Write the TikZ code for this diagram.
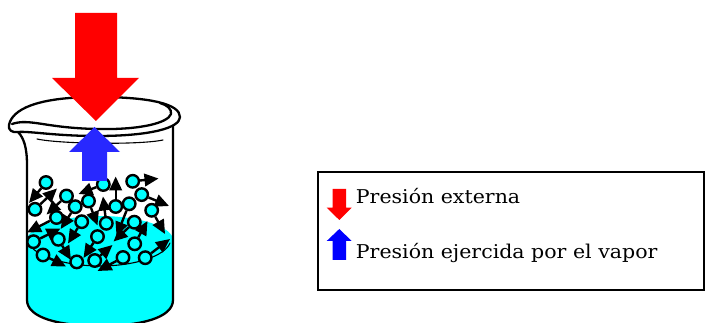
\documentclass[tikz,border=0pt]{standalone}
\usepackage{fontspec}
\setmainfont{DejaVu Serif}[FakeStretch=1.08]
\usetikzlibrary{arrows.meta}
\definecolor{pushred}{RGB}{255,0,0}
\definecolor{pushblue}{RGB}{40,40,255}
\definecolor{keyblue}{RGB}{0,0,255}
\definecolor{water}{RGB}{0,255,255}
\begin{document}
\begin{tikzpicture}[x=1pt,y=-1pt,
  glass/.style={line width=2.3pt, line cap=round, line join=round},
  thinglass/.style={line width=1.1pt, line cap=round},
  molecule/.style={circle, draw=black, fill=water, line width=2.4pt,
                   minimum size=12.5pt, inner sep=0pt},
  motion/.style={line width=2.4pt, -{Triangle[length=14pt,width=12.5pt]}},
  keytext/.style={anchor=base west, inner sep=0pt,
                  font=\fontsize{19}{22}\selectfont}]

\useasboundingbox (0,0) rectangle (705,323);

% liquid
\fill[water] (27,240) .. controls (27,227) and (60,216) .. (100,216)
  .. controls (140,216) and (173,227) .. (173,240) -- (173,300)
  .. controls (173,318) and (140,326) .. (100,326)
  .. controls (60,326) and (27,318) .. (27,300) -- cycle;
\draw[thinglass] (28,242) .. controls (35,258) and (70,266) .. (100,266)
  .. controls (135,266) and (165,256) .. (170,243);

% beaker rim with spout
\draw[glass] (9,125) .. controls (12,110) and (35,97) .. (97,97)
  .. controls (150,97) and (180,104) .. (180,117)
  .. controls (180,128) and (150,136) .. (97,136)
  .. controls (55,136) and (30,131) .. (18,132)
  .. controls (12,133) and (8,130) .. (9,125);
\draw[glass] (12,124) .. controls (30,118) and (45,128) .. (97,129)
  .. controls (140,130) and (168,123) .. (171,114)
  .. controls (172,109) and (167,105) .. (160,103);
\draw[thinglass] (37,139) .. controls (60,144) and (140,145) .. (163,140);

% beaker walls and bottom
\draw[glass] (18,132) .. controls (24,138) and (27,148) .. (27,165) -- (27,300)
  .. controls (27,318) and (60,326) .. (100,326)
  .. controls (140,326) and (173,318) .. (173,300) -- (173,126);

% molecules and their velocities
\foreach \i/\cx/\cy/\tx/\ty in {
   1/46/182.5/29/203,
   2/35/209.3/57/188.5,
   3/66.5/196/46.5/214.5,
   4/75.2/206.7/60.7/229,
   5/56.5/217.5/27/232.5,
   6/88.5/201/97.5/225.5,
   7/103.3/184.5/78.5/194,
   8/115.7/206.5/115.7/176.5,
   9/132.7/181.3/158.5/178.5,
  10/141.7/194.6/169/206,
  11/129.2/203.8/116.5/236,
  12/151.7/210.3/165/234,
  13/106.3/223.3/103/196.5,
  14/134.3/222.2/113.5/241.5,
  15/81.7/221.7/68/243.5,
  16/33.5/241.7/60.5/228.5,
  17/58.3/239.3/71/260,
  18/97.5/236.6/83.5/258,
  19/134.7/243.8/147.5/221,
  20/43/255/66/266.5,
  22/94.7/260.5/112.5/245,
  23/123/257.5/97.5/271,
  24/145.2/257.7/170/239}{
  \node[molecule] (m\i) at (\cx,\cy) {};
  \coordinate (v\i) at (\tx,\ty);
  \draw[motion] (m\i) -- (v\i);
}
\node[molecule] (m21) at (76.7,261.9) {};

% external pressure and vapour pressure
\fill[pushred] (75,13) -- (117,13) -- (117,78) -- (139,78) -- (96,121)
  -- (52,78) -- (75,78) -- cycle;
\fill[pushblue] (94.5,127) -- (120,152) -- (107,152) -- (107,181)
  -- (82,181) -- (82,152) -- (69,152) -- cycle;

% key
\node[draw, line width=1.5pt, minimum width=386pt, minimum height=118pt,
      inner sep=0pt] (key) at (511,231) {};
\fill[pushred] (332.7,189) -- (346,189) -- (346,207.7) -- (351.7,207.7)
  -- (339.3,220) -- (326.7,207.7) -- (332.7,207.7) -- cycle;
\fill[keyblue] (339.3,229) -- (351.7,241) -- (346,241) -- (346,260)
  -- (332.7,260) -- (332.7,241) -- (326.7,241) -- cycle;
\node[keytext] (ext) at (355.7,203.3) {Presión externa};
\node[keytext] (vap) at (355.7,259) {Presión ejercida por el vapor};
\end{tikzpicture}
\end{document}
